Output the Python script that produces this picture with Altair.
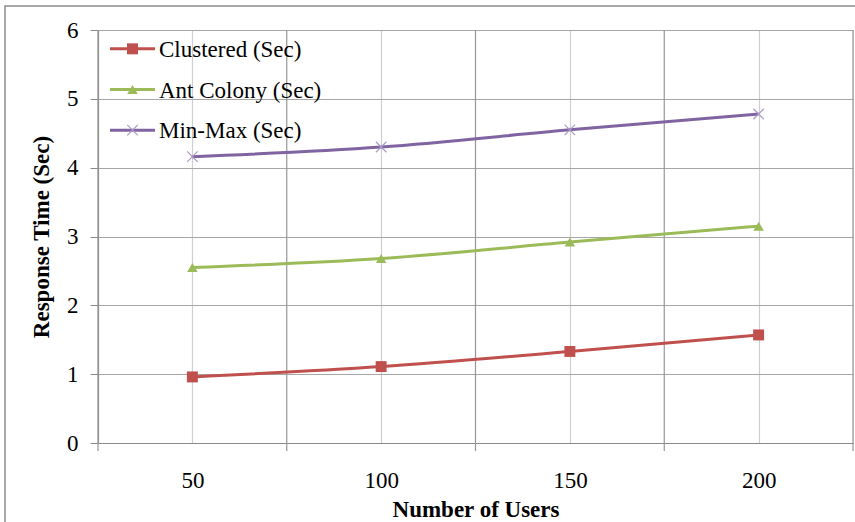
import altair as alt
import pandas as pd

users = [50, 100, 150, 200]
clustered = [0.96, 1.11, 1.33, 1.57]
ant_colony = [2.55, 2.68, 2.92, 3.15]
min_max = [4.16, 4.30, 4.55, 4.78]
series_names = ["Clustered (Sec)", "Ant Colony (Sec)", "Min-Max (Sec)"]
series_colors = ["#C0504D", "#9BBB59", "#8064A2"]
y_ticks = [0, 1, 2, 3, 4, 5, 6]
cat_bounds = [25, 75, 125, 175, 225]

rows = []
for name, vals in zip(series_names, [clustered, ant_colony, min_max]):
    for u, v in zip(users, vals):
        rows.append({"users": u, "time": v, "series": name})
df = pd.DataFrame(rows)
bounds_df = pd.DataFrame({"b": cat_bounds})
leg_df = pd.DataFrame({"series": series_names})

W, H = 755, 413
FONT = "Liberation Serif"

xscale = alt.Scale(domain=[25, 225], nice=False, zero=False)
yscale = alt.Scale(domain=[0, 6], nice=False)
color_scale = alt.Scale(domain=series_names, range=series_colors)

frame = alt.Chart(pd.DataFrame({"k": [0]})).mark_rect(
    fill=None, stroke="#8c8c8c", strokeWidth=1.5
).encode(
    x=alt.value(-93), x2=alt.value(900), y=alt.value(-24), y2=alt.value(700)
)

axes = alt.Chart(df).mark_point(opacity=0).encode(
    x=alt.X("users:Q", scale=xscale, title="Number of Users",
            axis=alt.Axis(values=users, format="d", ticks=False, tickSize=0,
                          labelPadding=26, labelFontSize=23, labelFont=FONT,
                          labelColor="#000", titleFont=FONT, titleFontSize=23,
                          titleFontWeight="bold", titleColor="#000",
                          titleY=73, titleBaseline="alphabetic",
                          grid=True, gridColor="#cfcfcf", gridWidth=1.2,
                          domainColor="#8a8a8a", domainWidth=1.2)),
    y=alt.Y("time:Q", scale=yscale, title="Response Time (Sec)",
            axis=alt.Axis(values=y_ticks, format="d", tickSize=8, tickColor="#8a8a8a",
                          labelPadding=12, labelFontSize=23, labelFont=FONT,
                          labelColor="#000", titleFont=FONT, titleFontSize=23,
                          titleFontWeight="bold", titleColor="#000",
                          titleX=-50, titleBaseline="alphabetic",
                          grid=True, gridColor="#a6a6a6", gridWidth=1.2,
                          domainColor="#8a8a8a", domainWidth=1.2)),
)

bound_grid = alt.Chart(bounds_df).mark_rule(color="#969696", strokeWidth=1.2).encode(
    x=alt.X("b:Q", scale=xscale), y=alt.value(0), y2=alt.value(H + 8)
)

lines = alt.Chart(df).mark_line(strokeWidth=3, interpolate="monotone").encode(
    x=alt.X("users:Q", scale=xscale),
    y=alt.Y("time:Q", scale=yscale),
    color=alt.Color("series:N", scale=color_scale, legend=None),
    detail="series:N",
)

XPATH = "M-1,-1L1,1M-1,1L1,-1"
sq = alt.Chart(df[df.series == series_names[0]]).mark_point(
    shape="square", filled=True, size=120, opacity=1, color=series_colors[0]
).encode(x=alt.X("users:Q", scale=xscale), y=alt.Y("time:Q", scale=yscale))
tri = alt.Chart(df[df.series == series_names[1]]).mark_point(
    shape="triangle-up", filled=True, size=110, opacity=1, color=series_colors[1]
).encode(x=alt.X("users:Q", scale=xscale), y=alt.Y("time:Q", scale=yscale))
xm = alt.Chart(df[df.series == series_names[2]]).mark_point(
    shape=XPATH, filled=False, size=110, opacity=1,
    color="#ab9ac6", strokeWidth=1.2
).encode(x=alt.X("users:Q", scale=xscale), y=alt.Y("time:Q", scale=yscale))

# custom legend (rows placed by a point scale)
leg_y = alt.Y("series:N", axis=None, sort=series_names,
              scale=alt.Scale(domain=series_names, range=[-1.5, 120.5]))
leg_lines = alt.Chart(leg_df).mark_rule(strokeWidth=3).encode(
    x=alt.value(12), x2=alt.value(57), y=leg_y,
    color=alt.Color("series:N", scale=color_scale, legend=None),
)
leg_sq = alt.Chart(leg_df[leg_df.series == series_names[0]]).mark_point(
    shape="square", filled=True, size=120, opacity=1, color=series_colors[0]
).encode(x=alt.value(34.5), y=leg_y)
leg_tri = alt.Chart(leg_df[leg_df.series == series_names[1]]).mark_point(
    shape="triangle-up", filled=True, size=110, opacity=1, color=series_colors[1]
).encode(x=alt.value(34.5), y=leg_y)
leg_x = alt.Chart(leg_df[leg_df.series == series_names[2]]).mark_point(
    shape=XPATH, filled=False, size=110, opacity=1,
    color="#ab9ac6", strokeWidth=1.2
).encode(x=alt.value(34.5), y=leg_y)
leg_text = alt.Chart(leg_df).mark_text(
    align="left", baseline="middle", font=FONT, fontSize=23, color="#000", dy=1
).encode(x=alt.value(61), y=leg_y, text="series:N")

legend_layer = alt.layer(leg_lines, leg_sq, leg_tri, leg_x, leg_text)

main = alt.layer(frame, axes, bound_grid, lines, sq, tri, xm)

chart = alt.layer(main, legend_layer).resolve_scale(y="independent").properties(
    width=W, height=H,
    autosize=alt.AutoSizeParams(type="none"),
    padding={"left": 98, "top": 30, "right": 2, "bottom": 79},
).configure_view(stroke=None).configure(background="white")

chart.save("out.html", embed_options={"renderer": "svg", "actions": False})
